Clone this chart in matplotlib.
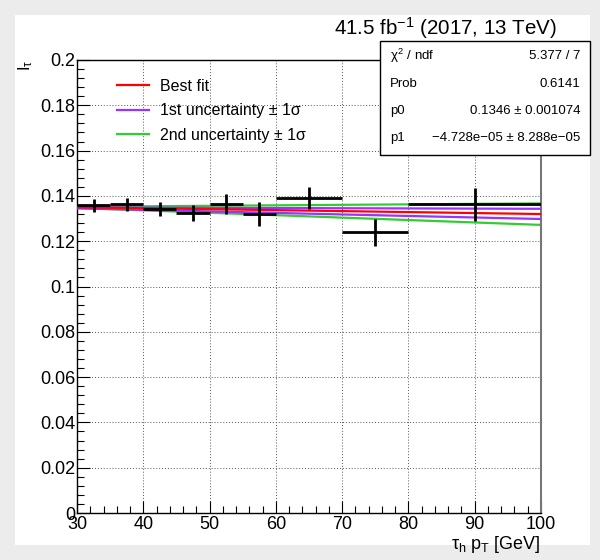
import matplotlib
matplotlib.use("Agg")
import matplotlib.pyplot as plt
import numpy as np
from matplotlib.ticker import MultipleLocator
from matplotlib.lines import Line2D

plt.rcParams['font.family'] = ['Liberation Sans', 'DejaVu Sans']
plt.rcParams['mathtext.fontset'] = 'custom'
plt.rcParams['mathtext.rm'] = 'Liberation Sans'
plt.rcParams['mathtext.it'] = 'Liberation Sans'
plt.rcParams['mathtext.sf'] = 'Liberation Sans'

# Data
bin_lo = [30, 35, 40, 45, 50, 55, 60, 70, 80]
bin_hi = [35, 40, 45, 50, 55, 60, 70, 80, 100]
values = [0.1358, 0.1363, 0.1344, 0.1323, 0.1364, 0.1319, 0.1392, 0.1239, 0.1363]
errors = [0.0028, 0.0028, 0.0031, 0.0035, 0.0044, 0.0053, 0.0048, 0.0061, 0.0072]

fit_x = [30, 100]
best_fit = [0.1350, 0.1320]
unc1_up = [0.1349, 0.1343]
unc1_dn = [0.1345, 0.1298]
unc2_up = [0.1352, 0.1367]
unc2_dn = [0.1347, 0.1272]

stats_labels = [r"$\chi^2$ / ndf", "Prob", "p0", "p1"]
stats_values = ["5.377 / 7", "0.6141", "0.1346 ± 0.001074", "−4.728e−05 ± 8.288e−05"]

fig = plt.figure(figsize=(6.0, 5.6), dpi=100)
fig.patch.set_facecolor('#ececec')
panel = plt.Rectangle((15/600, 1-545/560), 575/600, 530/560, transform=fig.transFigure,
                      facecolor='white', edgecolor='none', zorder=-10)
fig.patches.append(panel)

ax = fig.add_axes([77/600, 1-513/560, 464/600, 453/560], zorder=1)
ax.set_facecolor('white')

ax.plot(fit_x, unc2_up, color='#33cc33', lw=1.6, zorder=2)
ax.plot(fit_x, unc2_dn, color='#33cc33', lw=1.6, zorder=2)
ax.plot(fit_x, unc1_up, color='#9933ff', lw=1.6, zorder=3)
ax.plot(fit_x, unc1_dn, color='#9933ff', lw=1.6, zorder=3)
ax.plot(fit_x, best_fit, color='#ff0000', lw=1.6, zorder=4)

centers = [(a + b) / 2 for a, b in zip(bin_lo, bin_hi)]
halfw = [(b - a) / 2 for a, b in zip(bin_lo, bin_hi)]
ax.errorbar(centers, values, xerr=halfw, yerr=errors, fmt='none', ecolor='black',
            elinewidth=2.0, capsize=0, zorder=5)

ax.set_xlim(30, 100)
ax.set_ylim(0, 0.2)
ax.xaxis.set_major_locator(MultipleLocator(10))
ax.xaxis.set_minor_locator(MultipleLocator(2))
ax.yaxis.set_minor_locator(MultipleLocator(0.004))
ax.set_yticks([0, 0.02, 0.04, 0.06, 0.08, 0.1, 0.12, 0.14, 0.16, 0.18, 0.2])
ax.set_yticklabels(['0', '0.02', '0.04', '0.06', '0.08', '0.1', '0.12', '0.14', '0.16', '0.18', '0.2'])
ax.tick_params(which='major', direction='in', length=9, width=0.8, labelsize=13, pad=2,
               top=False, right=False)
ax.tick_params(axis='y', which='major', pad=1)
ax.tick_params(which='minor', direction='in', length=5, width=0.8, top=False, right=False)
ax.grid(True, which='major', linestyle=(0, (1, 2)), color='#555555', linewidth=0.7)
for s in ax.spines.values():
    s.set_linewidth(1.0)
ax.spines['right'].set_color('#777777')
ax.spines['right'].set_linewidth(1.5)

ax.set_xlabel(r"$\tau_{\mathrm{h}}$ $p_{\mathrm{T}}$ [GeV]", fontsize=13, loc='right', labelpad=1)
ax.set_ylabel(r"I$_{\tau}$", fontsize=12, loc='top', labelpad=4)

# Legend
leg_items = [("Best fit", '#ff0000'), ("1st uncertainty ± 1σ", '#9933ff'),
             ("2nd uncertainty ± 1σ", '#33cc33')]
handles = [Line2D([], [], color=c, lw=1.6) for _, c in leg_items]
ax.legend(handles, [t for t, _ in leg_items], loc='upper left', bbox_to_anchor=(0.055, 0.99),
          frameon=False, fontsize=11.5, handlelength=2.0, handletextpad=0.7, labelspacing=0.6)

# Title
fig.text(557/600, 1-28/560, r"41.5 fb$^{-1}$ (2017, 13 TeV)", ha='right', va='center', fontsize=14.8)

# Stats box
box = plt.Rectangle((380/600, 1-155/560), 210/600, 114/560, transform=fig.transFigure,
                    facecolor='white', edgecolor='black', linewidth=1.0, zorder=10)
fig.patches.append(box)
rows_y = [56, 84, 111, 138]
for lab, val, yy in zip(stats_labels, stats_values, rows_y):
    fig.text(390/600, 1-yy/560, lab, ha='left', va='center', fontsize=9.5, zorder=11)
    fig.text(580/600, 1-yy/560, val, ha='right', va='center', fontsize=9.5, zorder=11)

fig.savefig("out.png", dpi=100, facecolor=fig.get_facecolor())
